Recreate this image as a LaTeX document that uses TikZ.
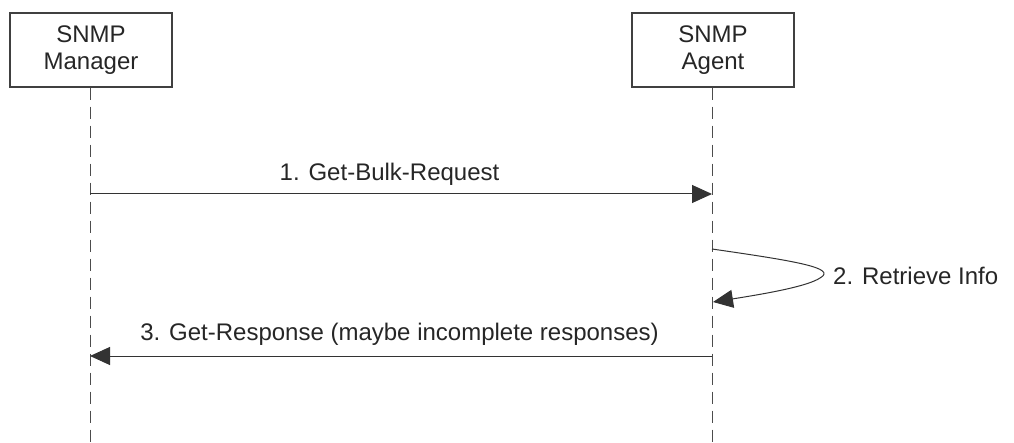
\documentclass[tikz,border=0pt]{standalone}
\usepackage{fontspec}
\setmainfont{Liberation Sans}
\usetikzlibrary{arrows.meta}
\begin{document}
\begin{tikzpicture}[x=1pt,y=-1pt,
  every node/.style={font=\fontsize{24}{27}\selectfont, text=black!85},
  actor/.style={draw=black!75, line width=1.1pt, minimum width=162pt, minimum height=74pt,
    align=center, inner sep=0pt},
  lifeline/.style={draw=black!70, line width=1pt, dash pattern=on 12pt off 7pt},
  msg/.style={draw=black!80, line width=1pt, -{Triangle[length=20pt,width=18pt]}},
  lbl/.style={anchor=base, inner sep=0pt}
]
\useasboundingbox (0,0) rectangle (1014,443);

% participants
\node[actor] (mgr) at (91,50) {SNMP\\Manager};
\node[actor] (agt) at (713,50) {SNMP\\Agent};

% lifelines
\coordinate (mgrEnd) at (90,443);
\coordinate (agtEnd) at (712,443);
\draw[lifeline] (mgr.south -| mgrEnd) -- (mgrEnd);
\draw[lifeline] (agt.south -| agtEnd) -- (agtEnd);

% message points on lifelines
\coordinate (m1s) at (90,194);
\coordinate (m1e) at (712,194);
\coordinate (s2s) at (712,249);
\coordinate (s2e) at (713,302);
\coordinate (m3s) at (712,356);
\coordinate (m3e) at (90,356);

% 1. request
\draw[msg] (m1s) -- (m1e);
\node[lbl] (l1) at (389.5,181) {1. Get-Bulk-Request};

% 2. self call
\draw[msg] (s2s) .. controls (795,261) and (838,268) .. (820,278)
  .. controls (808,286) and (770,293) .. (s2e);
\node[lbl, anchor=base west] (l2) at (833,285) {2. Retrieve Info};

% 3. response
\draw[msg] (m3s) -- (m3e);
\node[lbl] (l3) at (399.5,341) {3. Get-Response (maybe incomplete responses)};
\end{tikzpicture}
\end{document}
